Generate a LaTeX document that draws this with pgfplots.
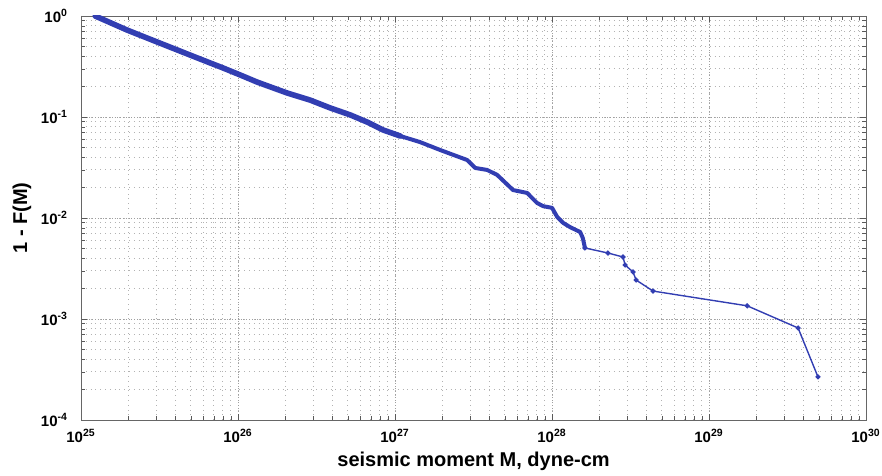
\documentclass[border=0pt]{standalone}
\usepackage{fontspec}
\setmainfont{Liberation Sans}
\usepackage{pgfplots}
\pgfplotsset{compat=1.18}
\usetikzlibrary{calc}
\definecolor{curve}{RGB}{50,62,178}
\begin{document}
\begin{tikzpicture}
\begin{axis}[
  name=ax,
  scale only axis,
  width=392.5pt, height=202pt,
  xmode=log, ymode=log,
  xmin=1e25, xmax=1e30, ymin=1e-4, ymax=1,
  xtick={1e25,1e26,1e27,1e28,1e29,1e30},
  xticklabels={10\textsuperscript{25},10\textsuperscript{26},10\textsuperscript{27},10\textsuperscript{28},10\textsuperscript{29},10\textsuperscript{30}},
  ytick={1e-4,1e-3,1e-2,1e-1,1},
  yticklabels={10\textsuperscript{-4},10\textsuperscript{-3},10\textsuperscript{-2},10\textsuperscript{-1},10\textsuperscript{0}},
  grid=both,
  major grid style={densely dotted, gray!75},
  minor grid style={dotted, gray!60},
  axis line style={gray!80!black},
  tick style={gray!70!black},
  major tick length=3pt, minor tick length=2pt,
  tick label style={font=\bfseries\fontsize{7.5}{8}\selectfont},
  xticklabel style={yshift=-1pt},
  yticklabel style={xshift=-3pt},
  xlabel={seismic moment M, dyne-cm},
  ylabel={1 - F(M)},
  label style={font=\bfseries\fontsize{10}{12}\selectfont},
  xlabel style={at={(axis description cs:0.5,-0.1015)}, anchor=center},
  ylabel style={at={(axis description cs:-0.0752,0.5)}, anchor=center},
]
\addplot[curve, line width=2.8pt, line join=round, line cap=round] coordinates {
(1.23e25,1.0)
(1.96e25,0.727)
(3.05e25,0.553)
(4.94e25,0.411)
(6.64e25,0.343)
(8.02e25,0.306)
(1.03e26,0.261)
(1.32e26,0.222)
(2.05e26,0.173)
(2.88e26,0.147)
(3.86e26,0.123)
(5.17e26,0.105)
(6.63e26,0.0892)
(8.39e26,0.0744)
(1.08e27,0.0648)
};
\addplot[curve, line width=2pt, line join=round, line cap=round] coordinates {
(1.08e27,0.0648)
(1.44e27,0.0565)
(1.94e27,0.0471)
(2.88e27,0.0375)
(3.24e27,0.0313)
(3.86e27,0.0299)
(4.47e27,0.0267)
(5.65e27,0.0189)
(6.94e27,0.0177)
(8.02e27,0.0141)
(8.77e27,0.0131)
(1.00e28,0.0126)
(1.08e28,0.0102)
(1.18e28,0.00892)
(1.30e28,0.00814)
(1.51e28,0.00726)
(1.57e28,0.00634)
(1.62e28,0.00505)
};
\addplot[curve, line width=0.7pt, mark=*, mark size=0.9pt] coordinates {
(1.62e28,0.00505)
(2.27e28,0.0045)
(2.83e28,0.00411)
(2.92e28,0.00342)
(3.28e28,0.00292)
(3.43e28,0.00243)
(4.40e28,0.00189)
(1.75e29,0.00135)
(3.69e29,0.000815)
(4.94e29,0.000267)
};
\end{axis}
\pgfresetboundingbox
\path ($(ax.south west)+(-40.5pt,-28pt)$) rectangle ($(ax.north east)+(8pt,8pt)$);
\end{tikzpicture}
\end{document}
